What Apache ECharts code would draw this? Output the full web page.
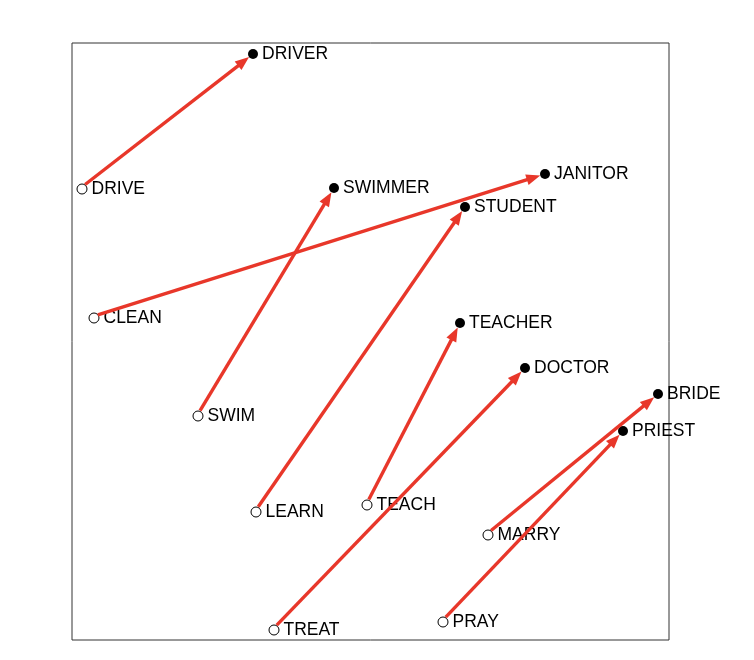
<!DOCTYPE html>
<html>
<head>
<meta charset="utf-8">
<script src="https://cdn.jsdelivr.net/npm/echarts@6/dist/echarts.min.js"></script>
<style>html,body{margin:0;padding:0;background:#fff}#chart{width:754px;height:660px}</style>
</head>
<body>
<div id="chart"></div>
<script>
// Source words (open circles) and target words (filled dots)
const baseWords = ["DRIVE", "CLEAN", "SWIM", "LEARN", "TEACH", "TREAT", "MARRY", "PRAY"];
const baseX = [10, 22, 126, 184, 295, 202, 416, 371];
const baseY = [451, 322, 224, 128, 135, 10, 105, 18];
const targetWords = ["DRIVER", "JANITOR", "SWIMMER", "STUDENT", "TEACHER", "DOCTOR", "BRIDE", "PRIEST"];
const targetX = [181, 473, 262, 393, 388, 453, 586, 551];
const targetY = [586, 466, 452, 433, 317, 272, 246, 209];

const RED = '#e8372a';
const baseData = baseWords.map((w, i) => ({ name: w, value: [baseX[i], baseY[i]] }));
const targetData = targetWords.map((w, i) => ({ name: w, value: [targetX[i], targetY[i]] }));
const arrowData = baseWords.map((w, i) => [baseX[i], baseY[i], targetX[i], targetY[i]]);

const labelStyle = {
  show: true, position: 'right', distance: 4,
  formatter: p => p.name, color: '#000',
  fontFamily: "'Liberation Sans', Arial, sans-serif", fontSize: 17.5
};

const chart = echarts.init(document.getElementById('chart'), null, { renderer: 'canvas' });
chart.setOption({
  animation: false,
  grid: { left: 72, top: 43, width: 597, height: 597, show: true, borderColor: '#333', borderWidth: 1, backgroundColor: 'transparent' },
  xAxis: { type: 'value', min: 0, max: 597, show: false },
  yAxis: { type: 'value', min: 0, max: 597, show: false },
  series: [
    {
      type: 'scatter', z: 2, symbol: 'circle', symbolSize: 10,
      itemStyle: { color: '#fff', borderColor: '#000', borderWidth: 1, opacity: 1 },
      label: labelStyle, data: baseData
    },
    {
      type: 'scatter', z: 2, symbol: 'circle', symbolSize: 10,
      itemStyle: { color: '#000', opacity: 1 },
      label: labelStyle, data: targetData
    },
    {
      type: 'custom', z: 5, clip: false,
      encode: { x: [0, 2], y: [1, 3] },
      data: arrowData,
      renderItem: function (params, api) {
        const a = api.coord([api.value(0), api.value(1)]);
        const b = api.coord([api.value(2), api.value(3)]);
        const dx = b[0] - a[0], dy = b[1] - a[1];
        const len = Math.hypot(dx, dy);
        const ux = dx / len, uy = dy / len;
        const nx = -uy, ny = ux;
        const s = [a[0] + ux * 4, a[1] + uy * 4 - 2];
        const tip = [b[0] - ux * 5, b[1] - uy * 5];
        const headLen = 14, headW = 5.5;
        const base = [tip[0] - ux * headLen, tip[1] - uy * headLen];
        return {
          type: 'group',
          children: [
            { type: 'line', shape: { x1: s[0], y1: s[1], x2: base[0] + ux * 2, y2: base[1] + uy * 2 },
              style: { stroke: RED, lineWidth: 3.4 } },
            { type: 'polygon', shape: { points: [tip, [base[0] + nx * headW, base[1] + ny * headW], [base[0] - nx * headW, base[1] - ny * headW]] },
              style: { fill: RED } }
          ]
        };
      }
    }
  ]
});
</script>
</body>
</html>
